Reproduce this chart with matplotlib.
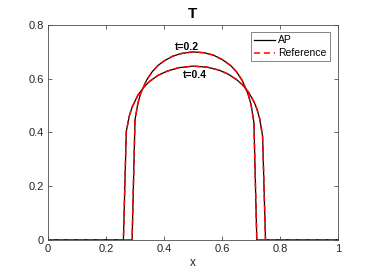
import matplotlib
matplotlib.use("Agg")
import matplotlib.pyplot as plt

# t = 0.2 profile
x_t02 = [0.0, 0.29, 0.30, 0.31, 0.32, 0.34, 0.36, 0.38, 0.40, 0.43, 0.46, 0.50,
         0.54, 0.57, 0.60, 0.63, 0.65, 0.67, 0.69, 0.70, 0.71, 0.72, 1.0]
y_t02 = [0.0, 0.0, 0.447, 0.509, 0.547, 0.595, 0.627, 0.650, 0.666, 0.684, 0.694, 0.700,
         0.6965, 0.688, 0.672, 0.649, 0.626, 0.593, 0.543, 0.504, 0.438, 0.0, 0.0]

# t = 0.4 profile
x_t04 = [0.0, 0.26, 0.27, 0.28, 0.29, 0.31, 0.33, 0.35, 0.38, 0.41, 0.45, 0.50,
         0.55, 0.59, 0.62, 0.65, 0.67, 0.69, 0.71, 0.72, 0.73, 0.74, 0.75, 1.0]
y_t04 = [0.0, 0.0, 0.404, 0.460, 0.494, 0.539, 0.568, 0.590, 0.613, 0.628, 0.641, 0.647,
         0.643, 0.632, 0.618, 0.597, 0.578, 0.552, 0.515, 0.489, 0.451, 0.386, 0.0, 0.0]

x_ticks = [0, 0.2, 0.4, 0.6, 0.8, 1]
x_tick_labels = ["0", "0.2", "0.4", "0.6", "0.8", "1"]
y_ticks = [0, 0.2, 0.4, 0.6, 0.8]
y_tick_labels = ["0", "0.2", "0.4", "0.6", "0.8"]

plt.rcParams['font.family'] = ['Liberation Sans', 'DejaVu Sans']

fig = plt.figure(figsize=(3.74, 2.80), dpi=100)
ax = fig.add_axes([48/374, 40/280, 290/374, 215/280])

axcol = '#4d4d4d'
ap1, = ax.plot(x_t02, y_t02, color='black', lw=0.9, label='AP')
ax.plot(x_t04, y_t04, color='black', lw=0.9)
ref1, = ax.plot(x_t02, y_t02, color='red', lw=1.1, ls=(0, (4, 2.5)), label='Reference')
ax.plot(x_t04, y_t04, color='red', lw=1.1, ls=(0, (4, 2.5)))

ax.text(0.478, 0.719, 't=0.2', fontsize=7.5, fontweight='bold', ha='center', va='center')
ax.text(0.506, 0.614, 't=0.4', fontsize=7.5, fontweight='bold', ha='center', va='center')

ax.set_xlim(0, 1)
ax.set_ylim(0, 0.8)
ax.set_xticks(x_ticks)
ax.set_xticklabels(x_tick_labels)
ax.set_yticks(y_ticks)
ax.set_yticklabels(y_tick_labels)
ax.tick_params(direction='in', length=3, width=0.6, colors=axcol, labelcolor='#262626',
               labelsize=8, top=True, right=True, pad=3)
for s in ax.spines.values():
    s.set_color(axcol)
    s.set_linewidth(0.6)

ax.set_title('T', fontsize=11, fontweight='bold', pad=5)
ax.set_xlabel('x', fontsize=8.5, color='#262626', labelpad=2)

leg = ax.legend(handles=[ap1, ref1], loc='upper right', bbox_to_anchor=(0.972, 0.967),
                fontsize=7.5, frameon=True, fancybox=False, handlelength=2.0,
                handletextpad=0.3, borderpad=0.3, labelspacing=0.3, borderaxespad=0)
leg.get_frame().set_edgecolor(axcol)
leg.get_frame().set_linewidth(0.6)

fig.savefig('out.png', dpi=100)
